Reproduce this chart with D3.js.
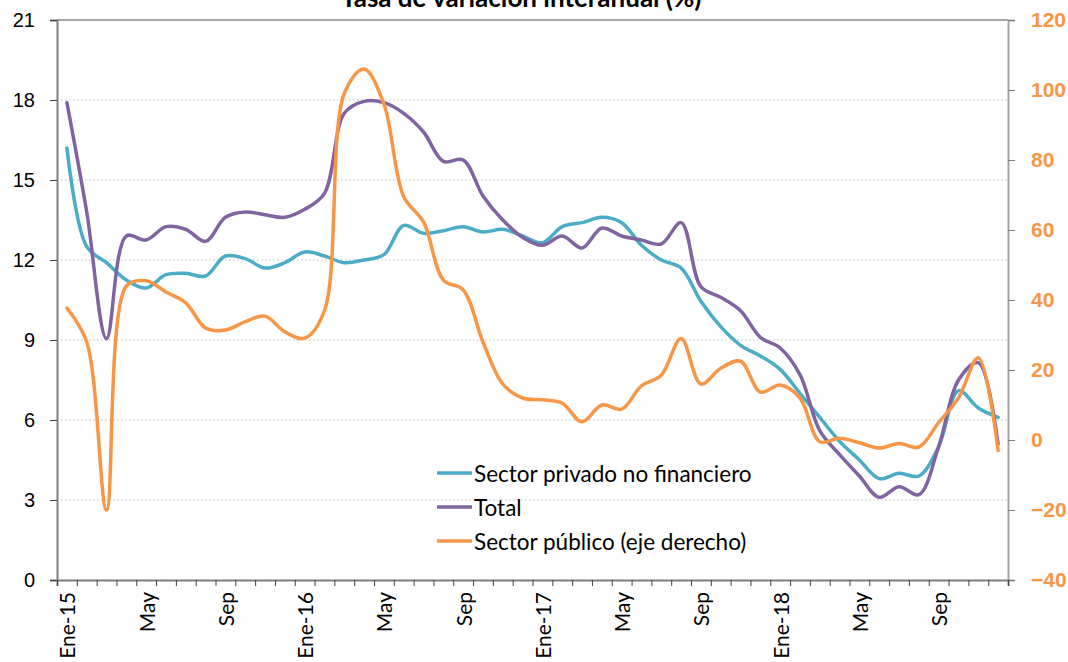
<!DOCTYPE html>
<html>
<head>
<meta charset="utf-8">
<script src="https://cdn.jsdelivr.net/npm/d3@7"></script>
<style>
  html, body { margin: 0; padding: 0; background: #fff; }
  svg { display: block; font-family: Lato, "Open Sans", sans-serif; }
</style>
</head>
<body>
<svg id="chart"></svg>
<script>
// meses (Ene-15 .. Dic-18)
const monthNames = ['Ene', 'Feb', 'Mar', 'Abr', 'May', 'Jun', 'Jul', 'Ago', 'Sep', 'Oct', 'Nov', 'Dic'];
const years = ['15', '16', '17', '18'];
const months = years.flatMap(y => monthNames.map(m => m === 'Ene' ? 'Ene-' + y : m));

// Sector privado no financiero (eje izquierdo)
const privado = [16.2, 12.5, 11.9, 11.25, 10.95, 11.45, 11.5, 11.4, 12.15, 12.05, 11.7, 11.9,
                 12.3, 12.15, 11.9, 12.0, 12.2, 13.3, 13.0, 13.1, 13.25, 13.05, 13.15, 12.9,
                 12.65, 13.25, 13.4, 13.6, 13.4, 12.55, 12.0, 11.7, 10.45, 9.5, 8.8, 8.4,
                 7.9, 7.0, 6.1, 5.2, 4.5, 3.8, 4.0, 3.9, 5.0, 7.1, 6.45, 6.1];

// Total (eje izquierdo)
const total = [17.9, 13.8, 9.05, 12.9, 12.75, 13.25, 13.15, 12.7, 13.6, 13.8, 13.7, 13.6,
               13.9, 14.5, 17.5, 17.95, 17.9, 17.5, 16.8, 15.7, 15.75, 14.4, 13.5, 12.85,
               12.55, 12.9, 12.45, 13.2, 12.9, 12.75, 12.6, 13.4, 11.0, 10.6, 10.1, 9.1,
               8.7, 7.7, 5.6, 4.7, 3.9, 3.1, 3.5, 3.2, 5.0, 7.5, 8.15, 5.1];

// Sector público (eje derecho)
const publico = [37.7, 28, -20, 44, 45.5, 42.3, 39.2, 32, 31.4, 33.8, 35.4, 30.9,
                 29.1, 37, 99, 106, 96, 69.5, 62.3, 45.7, 42.9, 28, 16, 12,
                 11.5, 10.5, 5.2, 10, 8.8, 15.5, 18.5, 29, 16, 20.5, 22.5, 13.7,
                 15.7, 12, -0.5, 0.5, -0.8, -2.3, -1, -2, 5, 12, 23.5, -3];

const leftTicks = [0, 3, 6, 9, 12, 15, 18, 21];
const rightTicks = [-40, -20, 0, 20, 40, 60, 80, 100, 120];

const seriesNames = ['Sector privado no financiero', 'Total', 'Sector público (eje derecho)'];
const seriesColors = ['#4BACC6', '#8064A2', '#F79646'];

const title = '-Tasa de variación interanual (%)-';

// dimensiones
const width = 1068, height = 662;
const plot = { left: 57, right: 1008, top: 20, bottom: 580 };

const svg = d3.select('#chart').attr('width', width).attr('height', height);

// escalas
const x = d3.scaleBand().domain(d3.range(months.length)).range([plot.left, plot.right]).padding(0);
const xEdge = d3.scaleLinear().domain([0, months.length]).range([plot.left, plot.right]);
const yL = d3.scaleLinear().domain([0, 21]).range([plot.bottom, plot.top]);
const yR = d3.scaleLinear().domain([-40, 120]).range([plot.bottom, plot.top]);

// grelha punteada
svg.append('g')
  .selectAll('line')
  .data(leftTicks.filter(d => d > 0 && d < 21))
  .enter().append('line')
  .attr('x1', plot.left).attr('x2', plot.right)
  .attr('y1', d => yL(d)).attr('y2', d => yL(d))
  .attr('stroke', '#bdbdbd')
  .attr('stroke-width', 1.2)
  .attr('stroke-dasharray', '1.5,2.5');

// borde superior
svg.append('line')
  .attr('x1', plot.left).attr('x2', plot.right)
  .attr('y1', plot.top).attr('y2', plot.top)
  .attr('stroke', '#a6a6a6').attr('stroke-width', 2);

// eje izquierdo
const gL = svg.append('g')
  .attr('transform', `translate(${plot.left},0)`)
  .call(d3.axisLeft(yL).tickValues(leftTicks).tickSize(7).tickPadding(15));
gL.select('.domain').attr('stroke', '#7f7f7f').attr('stroke-width', 2);
gL.selectAll('.tick line').attr('stroke', '#404040');
gL.selectAll('.tick text').attr('fill', '#000').style('font-size', '20px');

// eje derecho
const gR = svg.append('g')
  .attr('transform', `translate(${plot.right},0)`)
  .call(d3.axisRight(yR).tickValues(rightTicks).tickSize(7).tickPadding(16));
gR.select('.domain').attr('stroke', '#a6a6a6').attr('stroke-width', 2);
gR.selectAll('.tick line').attr('stroke', '#7f7f7f');
gR.selectAll('.tick text')
  .attr('fill', '#F79646')
  .style('font-size', '21px')
  .style('font-weight', 'bold');

// eje x: marcas en los limites de cada mes
const gX = svg.append('g')
  .attr('transform', `translate(0,${plot.bottom})`)
  .call(d3.axisBottom(xEdge).tickValues(d3.range(months.length + 1)).tickSize(6).tickFormat(''));
gX.select('.domain').attr('stroke', '#7f7f7f').attr('stroke-width', 2);
gX.selectAll('.tick line').attr('stroke', '#404040');

// etiquetas del eje x (cada 4 meses)
svg.append('g')
  .selectAll('text')
  .data(months.map((m, i) => ({ m, i })).filter(d => d.i % 4 === 0))
  .enter().append('text')
  .attr('transform', d => `translate(${x(d.i) + x.bandwidth() / 2},${plot.bottom + 12}) rotate(-90)`)
  .attr('text-anchor', 'end')
  .attr('dominant-baseline', 'central')
  .style('font-size', '21px')
  .attr('fill', '#000')
  .text(d => d.m);

// lineas suavizadas
const curve = d3.curveCatmullRom.alpha(0.5);
const lineL = d3.line()
  .x((d, i) => x(i) + x.bandwidth() / 2)
  .y(d => yL(d))
  .curve(curve);
const lineR = d3.line()
  .x((d, i) => x(i) + x.bandwidth() / 2)
  .y(d => yR(d))
  .curve(curve);

const linesGroup = svg.append('g').attr('class', 'lines-group');
linesGroup.append('path').datum(privado)
  .attr('fill', 'none').attr('stroke', seriesColors[0]).attr('stroke-width', 3.5)
  .attr('stroke-linecap', 'round').attr('d', lineL);
linesGroup.append('path').datum(total)
  .attr('fill', 'none').attr('stroke', seriesColors[1]).attr('stroke-width', 3.5)
  .attr('stroke-linecap', 'round').attr('d', lineL);
linesGroup.append('path').datum(publico)
  .attr('fill', 'none').attr('stroke', seriesColors[2]).attr('stroke-width', 3.5)
  .attr('stroke-linecap', 'round').attr('d', lineR);

// leyenda
const legend = svg.append('g').attr('transform', 'translate(437,473)');
seriesNames.forEach((name, i) => {
  const row = legend.append('g').attr('transform', `translate(0,${i * 34})`);
  row.append('line')
    .attr('x1', 0).attr('x2', 35).attr('y1', 0).attr('y2', 0)
    .attr('stroke', seriesColors[i]).attr('stroke-width', 3.5);
  row.append('text')
    .attr('x', 37).attr('y', 0)
    .attr('dominant-baseline', 'central')
    .style('font-size', '22.5px')
    .attr('fill', '#000')
    .text(name);
});

// titulo (cortado arriba)
svg.append('text')
  .attr('x', 522).attr('y', 7)
  .attr('text-anchor', 'middle')
  .style('font-size', '26px')
  .style('font-weight', 'bold')
  .attr('fill', '#000')
  .text(title);
</script>
</body>
</html>
